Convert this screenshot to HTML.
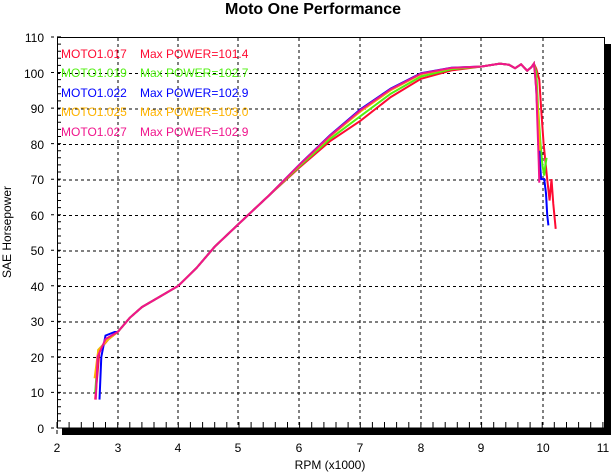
<!DOCTYPE html>
<html><head><meta charset="utf-8"><style>
body{margin:0;background:#fff;}
svg{display:block;font-family:"Liberation Sans",sans-serif;}
</style></head><body>
<svg id="sv" width="611" height="473" viewBox="0 0 611 473" xmlns="http://www.w3.org/2000/svg">
<rect width="611" height="473" fill="#fff"/>
<text x="313" y="14" font-size="16" font-weight="bold" text-anchor="middle">Moto One Performance</text>
<rect x="62" y="428" width="549" height="7" fill="#000"/>
<rect x="605" y="44" width="6" height="391" fill="#000"/>
<g stroke="#000" stroke-width="1" stroke-dasharray="3,3" fill="none">
<path d="M118 38V428M178 38V428M238 38V428M299 38V428M360 38V428M421 38V428M481 38V428M543 38V428"/>
<path d="M57 73.5H605M57 109H605M57 144.5H605M57 180H605M57 215.5H605M57 251H605M57 286.5H605M57 322H605M57 357.5H605M57 393H605"/>
</g>
<rect x="57.5" y="37.5" width="547" height="390.5" fill="none" stroke="#000"/>
<g stroke="#000" id="tk"></g>
<g font-size="12" text-anchor="end">
<text x="44" y="42">110</text><text x="44" y="78">100</text><text x="44" y="113">90</text><text x="44" y="149">80</text><text x="44" y="184">70</text><text x="44" y="220">60</text><text x="44" y="255">50</text><text x="44" y="291">40</text><text x="44" y="326">30</text><text x="44" y="362">20</text><text x="44" y="397">10</text><text x="44" y="433">0</text>
</g>
<g font-size="12" text-anchor="middle">
<text x="57" y="452">2</text><text x="118" y="452">3</text><text x="178" y="452">4</text><text x="238" y="452">5</text><text x="299" y="452">6</text><text x="360" y="452">7</text><text x="421" y="452">8</text><text x="481" y="452">9</text><text x="543" y="452">10</text><text x="603" y="452">11</text>
<text x="330" y="469">RPM (x1000)</text>
<text transform="translate(11,232) rotate(-90)">SAE Horsepower</text>
</g>
<g font-size="12">
<text x="61" y="58" fill="#ff0a32">MOTO1.017</text><text x="140" y="58" fill="#ff0a32">Max POWER=101.4</text>
<text x="61" y="77" fill="#50f010">MOTO1.019</text><text x="140" y="77" fill="#50f010">Max POWER=102.7</text>
<text x="61" y="97" fill="#0000ff">MOTO1.022</text><text x="140" y="97" fill="#0000ff">Max POWER=102.9</text>
<text x="61" y="116" fill="#ffb400">MOTO1.025</text><text x="140" y="116" fill="#ffb400">Max POWER=103.0</text>
<text x="61" y="136" fill="#f0148c">MOTO1.027</text><text x="140" y="136" fill="#f0148c">Max POWER=102.9</text>
</g>
<g id="curves" fill="none" stroke-width="2"></g>
</svg>
<script>
var NS='http://www.w3.org/2000/svg';
var g=document.getElementById('tk'),s='';
for(var i=0;i<=45;i++){var x=57+i*12.13;s+='M'+x.toFixed(1)+' 422V428';}
for(var j=0;j<=55;j++){var y=428-j*7.11;s+='M57 '+y.toFixed(1)+'H61';}
for(var k=0;k<=11;k++){var y2=428-k*35.55;s+='M51 '+y2.toFixed(1)+'H54';}
for(var m=0;m<=9;m++){var x2=57+m*60.67;s+='M'+x2.toFixed(1)+' 430V434';}
var p=document.createElementNS(NS,'path');p.setAttribute('d',s);g.appendChild(p);
function X(r){return 57+(r-2)*60.67;}function Y(h){return 428-h*3.555;}
var base=[[3,27],[3.2,31],[3.4,34],[3.7,37],[4,40],[4.3,45],[4.6,51],[5,57.5],[5.5,65.5],[6,74],[6.5,82],[7,89],[7.5,95],[8,99.5],[8.5,101.2],[9,101.7],[9.3,102.5],[9.45,102.2],[9.55,101.2],[9.65,102.3],[9.75,100.5],[9.82,101.5],[9.86,102.5]];
var C=[
 {c:'#ff0a32',st:[[2.63,8],[2.7,22],[2.85,25]],d:-2,dh:[7,8.5,9.2],end:[[9.9,101],[9.95,98],[9.98,90],[10.02,80],[10.05,75],[10.08,70],[10.12,64],[10.15,70],[10.18,63],[10.22,56]]},
 {c:'#50f010',st:[[2.63,10],[2.68,22],[2.85,25]],d:-1,end:[[9.9,100],[9.93,90],[9.97,80],[10,74],[10.03,71],[10.05,74],[10.07,76]]},
 {c:'#0000ff',st:[[2.7,8],[2.73,20],[2.8,26],[2.95,27]],d:0.5,end:[[9.88,100],[9.9,95],[9.93,85],[9.96,75],[9.98,70],[10.03,70],[10.06,66],[10.08,60],[10.1,57]]},
 {c:'#ffb400',st:[[2.62,14],[2.68,22],[2.85,25]],d:0,end:[[9.88,100],[9.9,96],[9.93,88],[9.96,78]]},
 {c:'#f0148c',st:[[2.64,8],[2.67,20],[2.8,25]],d:0.3,end:[[9.88,99],[9.9,95],[9.92,85],[9.94,75],[9.95,69]]}
];
var cg=document.getElementById('curves');
C.forEach(function(o){
 var pts=o.st.slice();
 base.forEach(function(b){var h=b[1];if(b[0]>=5.5&&b[0]<=8.5)h+=o.d*(b[0]<7?(b[0]-5.5)/1.5:(8.5-b[0])/1.5+0.3);pts.push([b[0],h]);});
 pts=pts.concat(o.end);
 var pl=document.createElementNS(NS,'polyline');
 pl.setAttribute('points',pts.map(function(q){return X(q[0]).toFixed(1)+','+Y(q[1]).toFixed(1);}).join(' '));
 pl.setAttribute('stroke',o.c);cg.appendChild(pl);
});
</script>
</body></html>
